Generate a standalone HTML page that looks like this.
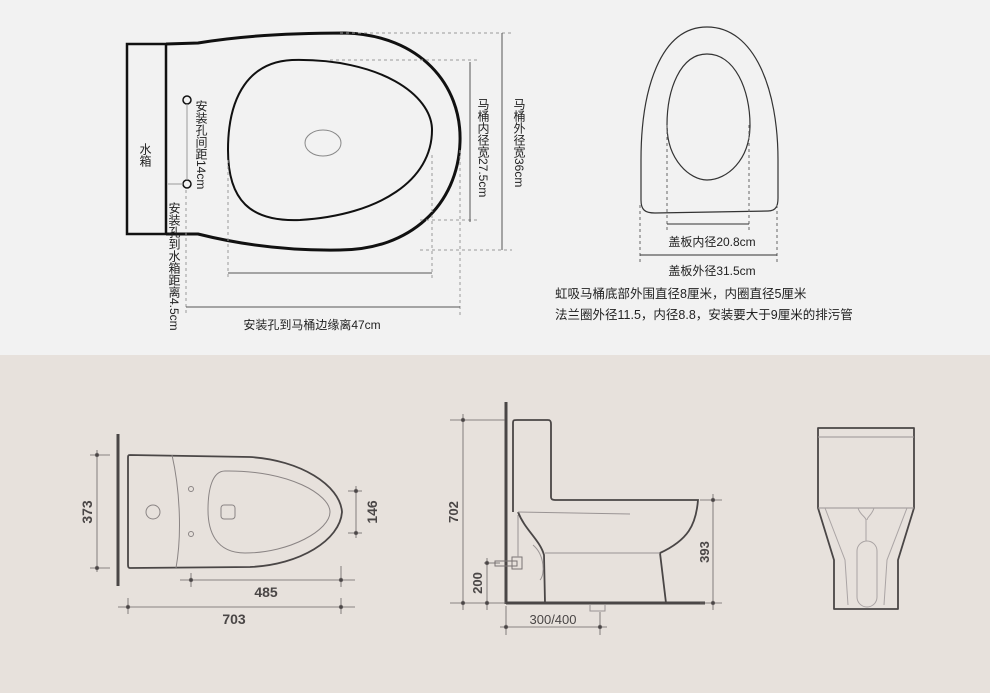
<!DOCTYPE html>
<html><head><meta charset="utf-8"><style>
html,body{margin:0;padding:0;}
body{width:990px;height:693px;overflow:hidden;font-family:"Liberation Sans","Noto Sans CJK SC",sans-serif;}
</style></head><body>
<svg width="990" height="693" viewBox="0 0 990 693" xmlns="http://www.w3.org/2000/svg" font-family="Liberation Sans, Noto Sans CJK SC, sans-serif">
<rect x="0" y="0" width="990" height="355" fill="#f2f2f2"/>
<rect x="0" y="355" width="990" height="338" fill="#e7e1dc"/>

<!-- TOP LEFT -->
<g fill="none" stroke="#111">
<rect x="127" y="44" width="39" height="190" stroke-width="2.5"/>
<path d="M166,44 L198,43 C240,36 290,33 345,33 C420,35 462,85 460,142 C458,205 410,250 340,250 C280,251 230,242 198,234 L166,234" stroke-width="3"/>
<path d="M292,60 C380,58 432,95 432,130 C432,180 380,215 300,220 C250,222 228,200 228,150 C228,95 250,62 292,60 Z" stroke-width="2"/>
<ellipse cx="323" cy="143" rx="18" ry="13" stroke="#888" stroke-width="1"/>
<circle cx="187" cy="100" r="4" stroke-width="1.5"/>
<circle cx="187" cy="184" r="4" stroke-width="1.5"/>
<line x1="187" y1="104" x2="187" y2="180" stroke="#999"/>
<line x1="168" y1="184" x2="183" y2="184" stroke="#999"/>
</g>
<g stroke="#999" stroke-dasharray="3,3" fill="none" stroke-width="1">
<line x1="340" y1="33" x2="512" y2="33"/>
<line x1="330" y1="60" x2="480" y2="60"/>
<line x1="420" y1="220" x2="480" y2="220"/>
<line x1="420" y1="250" x2="512" y2="250"/>
<line x1="228" y1="160" x2="228" y2="280"/>
<line x1="432" y1="155" x2="432" y2="280"/>
<line x1="460" y1="150" x2="460" y2="318"/>
<line x1="186" y1="190" x2="186" y2="315"/>
</g>
<g stroke="#555" stroke-width="1">
<line x1="228" y1="273" x2="432" y2="273"/>
<line x1="186" y1="307" x2="460" y2="307"/>
<line x1="470" y1="62" x2="470" y2="222"/>
<line x1="502" y1="33" x2="502" y2="250"/>
</g>
<g font-size="12" fill="#222">
<text x="145" y="143" writing-mode="tb" text-anchor="start">水箱</text>
<text x="201" y="100" writing-mode="tb">安装孔间距14cm</text>
<text x="174" y="202" writing-mode="tb">安装孔到水箱距离4.5cm</text>
<text x="483" y="98" writing-mode="tb">马桶内径宽27.5cm</text>
<text x="519" y="98" writing-mode="tb">马桶外径宽36cm</text>
<text x="312" y="329" text-anchor="middle">安装孔到马桶边缘离47cm</text>
</g>

<!-- TOP RIGHT seat -->
<g fill="none" stroke="#333" stroke-width="1.2">
<path d="M707,27 C660,27 641,90 641,160 L641,200 C641,210 645,213 655,213 L768,211 C776,211 778,206 778,198 L778,160 C778,90 755,27 707,27 Z"/>
<path d="M707,54 C680,54 667,90 667,125 C667,160 690,180 707,180 C727,180 750,160 750,125 C750,90 735,54 707,54 Z"/>
</g>
<g stroke="#666" stroke-dasharray="3,3" stroke-width="1">
<line x1="667" y1="125" x2="667" y2="230"/>
<line x1="749" y1="125" x2="749" y2="230"/>
<line x1="640" y1="205" x2="640" y2="262"/>
<line x1="777" y1="205" x2="777" y2="262"/>
</g>
<g stroke="#333" stroke-width="1">
<line x1="667" y1="224" x2="749" y2="224"/>
<line x1="640" y1="255" x2="777" y2="255"/>
</g>
<g font-size="12" fill="#222">
<text x="712" y="246" text-anchor="middle">盖板内径20.8cm</text>
<text x="712" y="275" text-anchor="middle">盖板外径31.5cm</text>
<text x="555" y="298" font-size="12.5">虹吸马桶底部外围直径8厘米，内圈直径5厘米</text>
<text x="555" y="319" font-size="12.5">法兰圈外径11.5，内径8.8，安装要大于9厘米的排污管</text>
</g>

<!-- BOTTOM LEFT -->
<g fill="none" stroke="#4a4646">
<line x1="118" y1="434" x2="118" y2="586" stroke-width="3"/>
<path d="M130,455 L250,457 C300,460 340,485 342,512 C340,540 300,565 250,567 L130,568 C128,568 128,566 128,564 L128,458 C128,456 128,455 130,455 Z" stroke-width="1.8"/>
<path d="M172,455 C180,490 182,535 176,568" stroke="#8a8484" stroke-width="1"/>
<path d="M225,471 C290,470 330,495 330,512 C330,530 290,553 245,553 C215,553 208,530 208,510 C208,490 212,471 225,471 Z" stroke="#8a8484" stroke-width="1"/>
<circle cx="153" cy="512" r="7" stroke="#8a8484"/>
<circle cx="191" cy="489" r="2.5" stroke="#8a8484"/>
<circle cx="191" cy="534" r="2.5" stroke="#8a8484"/>
<rect x="221" y="505" width="14" height="14" rx="3" stroke="#8a8484"/>
</g>
<g stroke="#6a6464" stroke-width="0.8" fill="#4a4646">
<line x1="97" y1="450" x2="97" y2="572"/><line x1="90" y1="455" x2="110" y2="455"/><line x1="90" y1="568" x2="110" y2="568"/>
<circle cx="97" cy="455" r="1.8"/><circle cx="97" cy="568" r="1.8"/>
<line x1="356" y1="486" x2="356" y2="538"/><line x1="348" y1="491" x2="362" y2="491"/><line x1="348" y1="533" x2="362" y2="533"/>
<circle cx="356" cy="491" r="1.8"/><circle cx="356" cy="533" r="1.8"/>
<line x1="180" y1="580" x2="355" y2="580"/><line x1="191" y1="573" x2="191" y2="587"/><line x1="341" y1="566" x2="341" y2="587"/>
<circle cx="191" cy="580" r="1.8"/><circle cx="341" cy="580" r="1.8"/>
<line x1="118" y1="607" x2="355" y2="607"/><line x1="128" y1="598" x2="128" y2="614"/><line x1="341" y1="598" x2="341" y2="614"/>
<circle cx="128" cy="607" r="1.8"/><circle cx="341" cy="607" r="1.8"/>
</g>
<g font-size="14" fill="#4a4646" font-weight="bold">
<text x="266" y="597" text-anchor="middle">485</text>
<text x="234" y="624" text-anchor="middle">703</text>
<text transform="translate(92,512) rotate(-90)" text-anchor="middle">373</text>
<text transform="translate(377,512) rotate(-90)" text-anchor="middle">146</text>
</g>

<!-- BOTTOM MIDDLE -->
<g fill="none" stroke="#4a4646">
<line x1="506" y1="402" x2="506" y2="604" stroke-width="3"/>
<line x1="506" y1="603" x2="705" y2="603" stroke-width="3"/>
<path d="M513,512 L513,423 C513,420 514,420 517,420 L548,420 C550,420 551,421 551,424 L551,497 C551,499 552,500 555,500 L698,500 C696,525 688,540 660,553 L666,603" stroke-width="1.8"/>
<path d="M518,512 C525,530 540,540 544,555 L545,603" stroke-width="1.8"/>
<line x1="518" y1="512" x2="630" y2="514" stroke="#9a9494" stroke-width="1"/>
<line x1="545" y1="553" x2="660" y2="553" stroke="#9a9494" stroke-width="1"/>
<path d="M533,545 C545,555 545,575 540,580" stroke="#9a9494"/>
<rect x="495" y="561" width="22" height="5" stroke="#7a7474" stroke-width="1"/>
<rect x="512" y="557" width="10" height="12" stroke="#7a7474" stroke-width="1"/>
<line x1="518" y1="515" x2="518" y2="557" stroke="#9a9494"/>
<path d="M590,605 L590,611 L605,611 L605,605" stroke="#9a9494"/>
</g>
<g stroke="#6a6464" stroke-width="0.8" fill="#4a4646">
<line x1="463" y1="414" x2="463" y2="610"/><line x1="450" y1="420" x2="505" y2="420"/><circle cx="463" cy="420" r="1.8"/>
<line x1="450" y1="603" x2="506" y2="603"/><circle cx="463" cy="603" r="1.8"/>
<line x1="487" y1="558" x2="487" y2="610"/><line x1="484" y1="563" x2="500" y2="563"/><circle cx="487" cy="563" r="1.8"/><circle cx="487" cy="603" r="1.8"/>
<line x1="713" y1="494" x2="713" y2="610"/><line x1="700" y1="500" x2="722" y2="500"/><line x1="700" y1="603" x2="722" y2="603"/>
<circle cx="713" cy="500" r="1.8"/><circle cx="713" cy="603" r="1.8"/>
<line x1="500" y1="627" x2="607" y2="627"/><line x1="506" y1="606" x2="506" y2="635"/><line x1="600" y1="612" x2="600" y2="635"/>
<circle cx="506" cy="627" r="1.8"/><circle cx="600" cy="627" r="1.8"/>
</g>
<g font-size="13" fill="#4a4646" font-weight="bold">
<text transform="translate(458,512) rotate(-90)" text-anchor="middle">702</text>
<text transform="translate(482,583) rotate(-90)" text-anchor="middle">200</text>
<text transform="translate(709,552) rotate(-90)" text-anchor="middle">393</text>
<text x="553" y="624" text-anchor="middle" font-weight="normal">300/400</text>
</g>

<!-- BOTTOM RIGHT -->
<g fill="none" stroke="#4a4646">
<path d="M818,428 L914,428 L914,508 L898,560 L898,609 L834,609 L834,560 L818,508 Z" stroke-width="1.8" stroke-linejoin="round"/>
<line x1="818" y1="437" x2="914" y2="437" stroke="#9a9494"/>
<line x1="818" y1="508" x2="914" y2="508" stroke="#9a9494"/>
<path d="M825,508 L845,560 L848,605 M907,508 L887,560 L884,605" stroke="#aaa4a4" stroke-width="1"/>
<path d="M858,508 C860,515 866,517 866,520 L866,541 M874,508 C872,515 867,517 867,520" stroke="#aaa4a4"/>
<rect x="857" y="541" width="20" height="66" rx="10" stroke="#aaa4a4"/>
</g>
</svg>
</body></html>
